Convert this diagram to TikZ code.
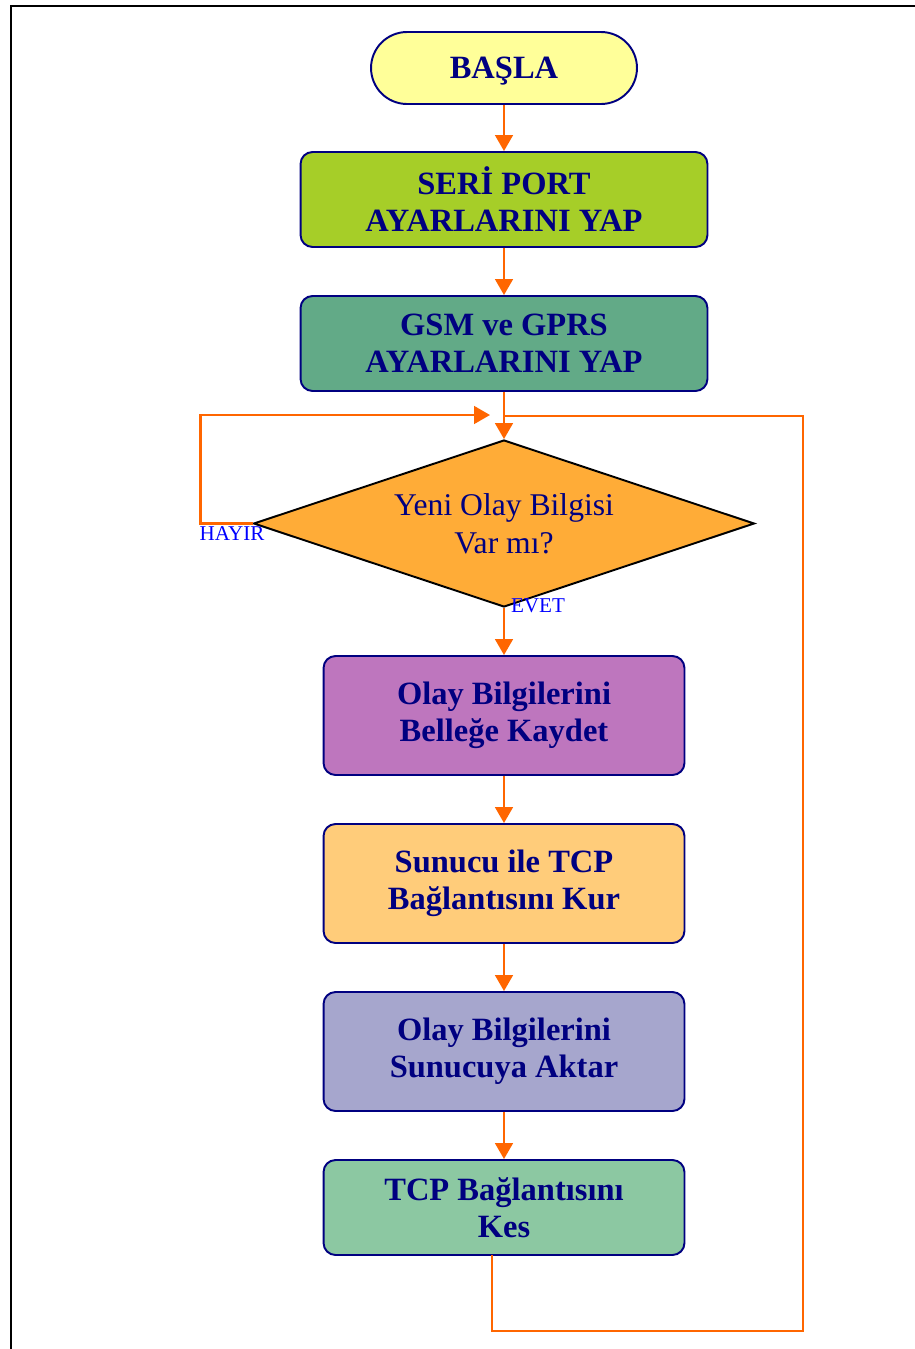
\documentclass[tikz,border=0pt]{standalone}
\usepackage{fontspec}
\setmainfont{Liberation Serif}
\usepackage{tikz}
\usetikzlibrary{positioning, shapes.geometric, arrows.meta, calc}
\definecolor{akisnavy}{RGB}{0,0,128}
\definecolor{akisorange}{RGB}{255,102,0}
\definecolor{akisblue}{RGB}{0,0,255}
\definecolor{baslafill}{RGB}{255,255,153}
\definecolor{serifill}{RGB}{166,206,40}
\definecolor{gsmfill}{RGB}{98,170,135}
\definecolor{sorufill}{RGB}{255,172,55}
\definecolor{bellekfill}{RGB}{190,118,190}
\definecolor{tcpfill}{RGB}{255,204,122}
\definecolor{aktarfill}{RGB}{166,166,205}
\definecolor{kesfill}{RGB}{140,200,162}

\begin{document}
\begin{tikzpicture}[x=0.02cm, y=-0.02cm,
        kutu/.style={rectangle, rounded corners=0.24cm, draw=akisnavy, line width=1.1pt, text=akisnavy,
          align=center, font=\fontsize{18.5}{21}\selectfont\bfseries},
        genis/.style={kutu, minimum width=8.14cm, minimum height=1.9cm},
        dar/.style={kutu, minimum width=7.22cm, minimum height=2.38cm},
        karar/.style={diamond, draw=black, line width=1.1pt, fill=sorufill, text=akisnavy, align=center,
          shape aspect=3, inner sep=0pt, minimum width=10.02cm, minimum height=3.34cm,
          font=\fontsize{18}{21.5}\selectfont},
        ok/.style={-{Triangle[length=9pt, width=10pt]}, line width=1.3pt, akisorange},
        hat/.style={line width=1.3pt, akisorange},
        etiket/.style={text=akisblue, inner sep=0pt, font=\fontsize{12}{14}\selectfont}]
        \useasboundingbox (0,0) rectangle (915,1349);
        \draw[line width=1.2pt] (11,1400) -- (11,6) -- (940,6);
        \node[kutu, fill=baslafill, rounded corners=0.72cm, minimum width=5.32cm, minimum height=1.44cm, text depth=0pt] (basla) at (504,68) {BAŞLA};
        \node[genis, fill=serifill] (seri) at (504,199.5) {SERİ PORT\\AYARLARINI YAP};
        \node[genis, fill=gsmfill] (gsm) at (504,343.5) {GSM ve GPRS\\AYARLARINI YAP};
        \node[karar] (soru) at (504,523.5) {Yeni Olay Bilgisi\\Var mı?};
        \node[dar, fill=bellekfill] (bellek) at (504,715.5) {Olay Bilgilerini\\Belleğe Kaydet};
        \node[dar, fill=tcpfill] (tcp) at (504,883.5) {Sunucu ile TCP\\Bağlantısını Kur};
        \node[dar, fill=aktarfill] (aktar) at (504,1051.5) {Olay Bilgilerini\\Sunucuya Aktar};
        \node[dar, fill=kesfill, minimum height=1.9cm] (kes) at (504,1207.5) {TCP Bağlantısını\\Kes};
        \node[etiket] (hayir) at (232,534) {HAYIR};
        \node[etiket] (evet) at (538,606) {EVET};
        \coordinate (hayirucu) at (490,415);
        \coordinate (birles) at (504,416);
        \coordinate (kesalt) at (492,1255);
        \coordinate (altsag) at (803,1331);
        \draw[ok] (basla) -- (seri);
        \draw[ok] (seri) -- (gsm);
        \draw[ok] (gsm) -- (soru);
        \draw[ok] (soru.west) -- ++(-52,0) |- (hayirucu);
        \draw[ok] (soru.south) -- (bellek);
        \draw[ok] (bellek) -- (tcp);
        \draw[ok] (tcp) -- (aktar);
        \draw[ok] (aktar) -- (kes);
        \draw[hat] (kesalt) |- (altsag) |- (birles);
      \end{tikzpicture}
\end{document}
